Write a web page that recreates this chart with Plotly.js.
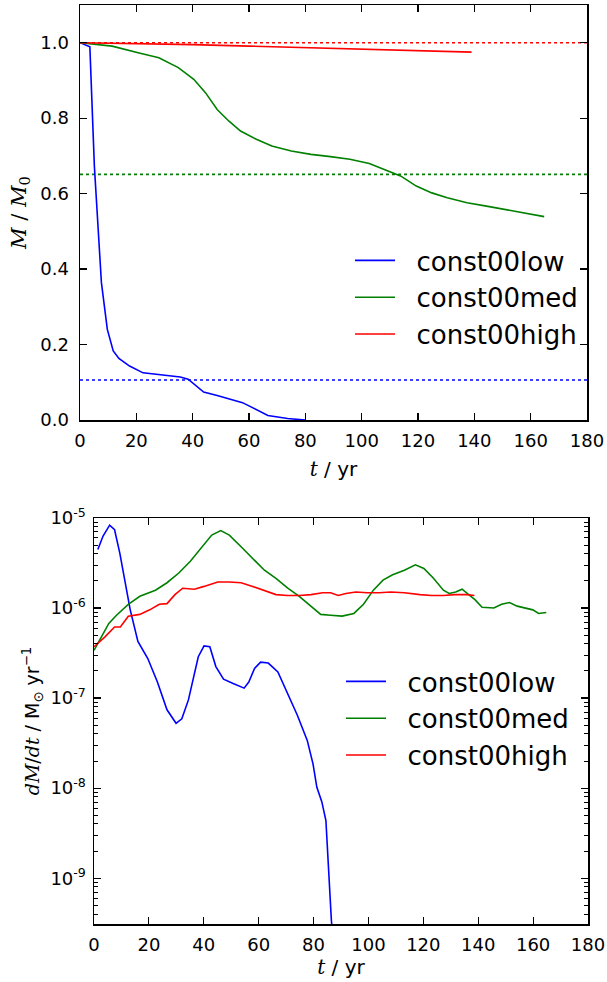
<!DOCTYPE html>
<html>
<head>
<meta charset="utf-8">
<script src="https://cdn.plot.ly/plotly-3.0.1.min.js"></script>
<style>html,body{margin:0;padding:0;background:#fff;}#chart{width:607px;height:982px;}</style>
</head>
<body>
<div id="chart"></div>
<script>
// ---------- Top panel: M / M0 ----------
var lowT_M = [0, 3.5, 5.1, 7.6, 9.7, 11.8, 13.8, 17.6, 22.4, 29.4, 35.6, 38.4, 43.9, 48.7, 57.7, 66.7, 73.7, 80];
var lowM   = [1.0, 0.989, 0.673, 0.364, 0.24, 0.183, 0.163, 0.143, 0.125, 0.119, 0.114, 0.108, 0.074, 0.065, 0.046, 0.012, 0.004, 0.0];

var medT_M = [0, 11.4, 21, 28, 34.9, 40.4, 44.6, 48.7, 52.9, 57, 62.6, 68.1, 75, 82, 88.9, 95.8, 102.7, 108.3, 113.8, 119.4, 124.9, 130.4, 137.4, 144.3, 151.2, 158.1, 164.8];
var medM   = [1.0, 0.991, 0.973, 0.960, 0.934, 0.903, 0.867, 0.823, 0.792, 0.766, 0.744, 0.726, 0.713, 0.704, 0.698, 0.691, 0.680, 0.664, 0.647, 0.620, 0.602, 0.589, 0.576, 0.567, 0.557, 0.547, 0.539];

var highT_M = [0, 20, 40, 60, 80, 100, 120, 139];
var highM   = [1.0, 0.998, 0.995, 0.991, 0.987, 0.983, 0.979, 0.975];

// horizontal reference levels (dotted)
var refSpan = [0, 180];
var lowRef = 0.106, medRef = 0.651, highRef = 1.0;

// ---------- Bottom panel: dM/dt ----------
var lowT_D = [1.4, 3.3, 5.7, 7.5, 9.4, 11.1, 13.2, 16, 19.6, 23.1, 26.6, 29.9, 32, 34.4, 38, 40.1, 42.2, 44.4, 47.2, 50.7, 54.7, 56.4, 58.5, 60.7, 63.5, 67, 70.6, 74.1, 77.7, 79.8, 81.2, 83, 84.5, 85.2, 85.9, 86.5, 86.9];
var lowD   = [4.47e-6, 6.31e-6, 8.32e-6, 7.41e-6, 4.07e-6, 2.04e-6, 9.55e-7, 4.27e-7, 2.75e-7, 1.51e-7, 7.41e-8, 5.25e-8, 5.89e-8, 9.55e-8, 2.88e-7, 3.80e-7, 3.72e-7, 2.24e-7, 1.62e-7, 1.45e-7, 1.29e-7, 1.51e-7, 2.14e-7, 2.51e-7, 2.45e-7, 1.95e-7, 1.12e-7, 6.46e-8, 3.39e-8, 1.86e-8, 1.02e-8, 7.08e-9, 4.37e-9, 1.70e-9, 5.62e-10, 3.39e-10, 2.5e-10];

var medT_D = [0, 2.6, 5.4, 8.2, 12.5, 16.7, 22.4, 26.6, 30.9, 35.1, 39.4, 42.9, 46.2, 49.3, 53.6, 57.8, 62.1, 66.3, 70.6, 74.8, 79.1, 82.6, 86.2, 90.4, 94.7, 98.2, 101.8, 105.3, 108.8, 113.1, 117.1, 120.2, 123.7, 127.3, 129.4, 131.8, 134.1, 136.5, 138.9, 141.4, 145.7, 148.5, 151.4, 154.2, 157, 159.9, 162, 164.8];
var medD   = [3.39e-7, 4.79e-7, 6.76e-7, 8.32e-7, 1.10e-6, 1.35e-6, 1.58e-6, 1.91e-6, 2.45e-6, 3.31e-6, 4.79e-6, 6.46e-6, 7.24e-6, 6.46e-6, 4.79e-6, 3.55e-6, 2.63e-6, 2.14e-6, 1.66e-6, 1.35e-6, 1.05e-6, 8.51e-7, 8.32e-7, 8.13e-7, 8.71e-7, 1.10e-6, 1.58e-6, 2.04e-6, 2.34e-6, 2.63e-6, 3.02e-6, 2.75e-6, 2.14e-6, 1.58e-6, 1.45e-6, 1.51e-6, 1.62e-6, 1.41e-6, 1.23e-6, 1.02e-6, 1.00e-6, 1.10e-6, 1.15e-6, 1.05e-6, 1.00e-6, 9.55e-7, 8.71e-7, 8.91e-7];

var highT_D = [0, 4, 7.5, 9.6, 12.5, 16.7, 20.3, 23.8, 26.6, 29.5, 32.3, 36.6, 40.1, 45.1, 49.3, 53.6, 57.8, 62.1, 66.3, 70.6, 74.8, 79.1, 83.3, 86.2, 89, 91.8, 95.4, 99.6, 103.9, 108.1, 113.1, 118.8, 123, 127.3, 131.5, 135.8, 138.6];
var highD   = [3.72e-7, 4.79e-7, 6.17e-7, 6.17e-7, 8.13e-7, 8.51e-7, 9.55e-7, 1.10e-6, 1.12e-6, 1.41e-6, 1.66e-6, 1.62e-6, 1.74e-6, 1.95e-6, 1.95e-6, 1.91e-6, 1.74e-6, 1.58e-6, 1.41e-6, 1.38e-6, 1.38e-6, 1.41e-6, 1.48e-6, 1.48e-6, 1.38e-6, 1.45e-6, 1.51e-6, 1.48e-6, 1.48e-6, 1.51e-6, 1.48e-6, 1.41e-6, 1.38e-6, 1.38e-6, 1.41e-6, 1.41e-6, 1.38e-6];

var names = ['const00low', 'const00med', 'const00high'];
var colors = ['#0000ff', '#008000', '#ff0000'];
var xTicks = [0, 20, 40, 60, 80, 100, 120, 140, 160, 180];
var yTicksTop = [0, 0.2, 0.4, 0.6, 0.8, 1.0];
var yTicksLog = [1e-9, 1e-8, 1e-7, 1e-6, 1e-5];
var yTickTextLog = ['10<sup>-9</sup>', '10<sup>-8</sup>', '10<sup>-7</sup>', '10<sup>-6</sup>', '10<sup>-5</sup>'];
var logDecades = [-10, -9, -8, -7, -6];
var minorMult = [2, 3, 4, 5, 6, 7, 8, 9];

var minorTicks = [];
logDecades.forEach(function (d) { minorMult.forEach(function (m) { minorTicks.push(m * Math.pow(10, d)); }); });

var SP = '\u00a0\u00a0';
var traces = [];
function line(x, y, c, name, xa, ya, legend, group, show, dash) {
  return {x: x, y: y, type: 'scatter', mode: 'lines', name: SP + name,
    line: {color: c, width: 1.6, dash: dash || 'solid'},
    xaxis: xa, yaxis: ya, legend: legend, legendgroup: group, showlegend: show,
    hoverinfo: 'skip'};
}
// dotted reference levels
traces.push(line(refSpan, [lowRef, lowRef], colors[0], '', 'x', 'y', 'legend', 'a', false, 'dot'));
traces.push(line(refSpan, [medRef, medRef], colors[1], '', 'x', 'y', 'legend', 'b', false, 'dot'));
traces.push(line(refSpan, [highRef, highRef], colors[2], '', 'x', 'y', 'legend', 'c', false, 'dot'));
// top curves
traces.push(line(lowT_M, lowM, colors[0], names[0], 'x', 'y', 'legend', 'a', true));
traces.push(line(medT_M, medM, colors[1], names[1], 'x', 'y', 'legend', 'b', true));
traces.push(line(highT_M, highM, colors[2], names[2], 'x', 'y', 'legend', 'c', true));
// bottom curves
traces.push(line(lowT_D, lowD, colors[0], names[0], 'x2', 'y2', 'legend2', 'a', true));
traces.push(line(medT_D, medD, colors[1], names[1], 'x2', 'y2', 'legend2', 'b', true));
traces.push(line(highT_D, highD, colors[2], names[2], 'x2', 'y2', 'legend2', 'c', true));

var tickFont = {family: 'DejaVu Sans', size: 18, color: '#000'};
var serifI = function (s) { return "<span style='font-family:DejaVu Serif;font-style:italic'>" + s + "</span>"; };

function xaxisBase(domain, anchor) {
  return {domain: domain, anchor: anchor, range: [0, 180], tickvals: xTicks,
    ticks: 'inside', ticklen: 7, tickwidth: 1.2, tickcolor: '#000',
    showline: true, linecolor: '#000', linewidth: 1.5, mirror: 'allticks',
    showgrid: false, zeroline: false, tickfont: tickFont, automargin: false,
    ticklabelstandoff: 4};
}
var xa1 = xaxisBase([80/607, 587/607], 'y');
xa1.title = {text: serifI('t') + ' / yr', font: {family: 'DejaVu Sans', size: 20, color: '#000'}, standoff: 12};
var xa2 = xaxisBase([94/607, 588/607], 'y2');
xa2.title = {text: serifI('t') + ' / yr', font: {family: 'DejaVu Sans', size: 20, color: '#000'}, standoff: 4};

var legendFont = {family: 'DejaVu Sans', size: 26, color: '#000'};
var logRange = [Math.log10(3.1e-10), -5];
var layout = {
  width: 607, height: 982,
  margin: {l: 0, r: 0, t: 0, b: 0},
  paper_bgcolor: '#fff', plot_bgcolor: '#fff',
  showlegend: true,
  xaxis: xa1,
  yaxis: {domain: [(982-420)/982, (982-5)/982], anchor: 'x', range: [0, 1.1],
    tickvals: yTicksTop, tickformat: '.1f',
    ticks: 'inside', ticklen: 7, tickwidth: 1.2, tickcolor: '#000',
    showline: true, linecolor: '#000', linewidth: 1.5, mirror: 'allticks',
    showgrid: false, zeroline: false, tickfont: tickFont, automargin: false,
    ticklabelstandoff: 6,
    title: {text: serifI('M') + ' / ' + serifI('M') + '<sub>0</sub>', font: {family: 'DejaVu Serif', size: 21, color: '#000'}, standoff: 8}},
  xaxis2: xa2,
  yaxis2: {domain: [(982-924)/982, (982-518)/982], anchor: 'x2', type: 'log',
    range: logRange,
    tickvals: yTicksLog, ticktext: yTickTextLog,
    ticks: 'inside', ticklen: 7, tickwidth: 1.2, tickcolor: '#000',
    minor: {tickmode: 'array', tickvals: minorTicks, ticks: 'inside', ticklen: 4, tickwidth: 1, tickcolor: '#000', showgrid: false},
    showline: true, linecolor: '#000', linewidth: 1.5, mirror: 'allticks',
    showgrid: false, zeroline: false, tickfont: tickFont, automargin: false,
    ticklabelstandoff: 3,
    title: {text: serifI('dM') + '/' + serifI('dt') + ' / M<sub>\u2299</sub> yr<sup>\u22121</sup>', font: {family: 'DejaVu Sans', size: 19, color: '#000'}, standoff: 6}},
  legend: {x: 350/607, y: 1 - 237/982, xanchor: 'left', yanchor: 'top',
    bgcolor: 'rgba(0,0,0,0)', borderwidth: 0, font: legendFont,
    traceorder: 'grouped', tracegroupgap: 0, itemwidth: 40},
  legend2: {x: 341/607, y: 1 - 658/982, xanchor: 'left', yanchor: 'top',
    bgcolor: 'rgba(0,0,0,0)', borderwidth: 0, font: legendFont,
    traceorder: 'grouped', tracegroupgap: 0, itemwidth: 40}
};

Plotly.newPlot('chart', traces, layout, {displayModeBar: false, staticPlot: true});
</script>
</body>
</html>
